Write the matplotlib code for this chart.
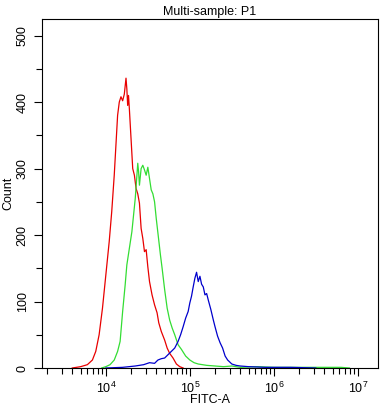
import numpy as np
import matplotlib
matplotlib.use("Agg")
import matplotlib.pyplot as plt
from matplotlib.ticker import LogLocator, MultipleLocator, NullFormatter

plt.rcParams['font.family'] = ['Liberation Sans', 'DejaVu Sans']
plt.rcParams['mathtext.fontset'] = 'custom'
plt.rcParams['mathtext.rm'] = 'Liberation Sans'

# log10(FITC-A) positions and counts
red_log = [3.60, 3.70, 3.78, 3.84, 3.88, 3.92, 3.96, 4.00, 4.04, 4.07, 4.10, 4.12, 4.14, 4.16,
           4.18, 4.20, 4.22, 4.24, 4.25, 4.26, 4.27, 4.28, 4.30, 4.32, 4.34, 4.36, 4.38, 4.40,
           4.42, 4.44, 4.46, 4.48, 4.50, 4.52, 4.55, 4.58, 4.61, 4.63, 4.66, 4.70, 4.73, 4.76,
           4.80, 4.84, 4.88, 4.92]
red_cnt = [0, 2, 5, 12, 25, 50, 90, 140, 190, 235, 290, 335, 380, 400,
           408, 402, 412, 436, 420, 395, 410, 390, 345, 300, 290, 270, 262, 248,
           210, 195, 175, 178, 152, 130, 110, 95, 83, 68, 55, 42, 30, 22,
           15, 6, 2, 0]

green_log = [3.95, 4.00, 4.05, 4.10, 4.14, 4.17, 4.20, 4.23, 4.25, 4.28, 4.31, 4.33, 4.35, 4.37,
             4.38, 4.39, 4.40, 4.42, 4.44, 4.46, 4.48, 4.50, 4.52, 4.54, 4.56, 4.58, 4.60, 4.62,
             4.65, 4.67, 4.70, 4.73, 4.76, 4.79, 4.82, 4.86, 4.90, 4.95, 5.00, 5.05, 5.10, 5.20,
             5.30, 5.40, 5.50, 5.60, 5.80, 6.00, 6.20, 6.50, 6.80, 6.90]
green_cnt = [0, 2, 5, 12, 25, 40, 85, 125, 155, 180, 205, 230, 255, 290,
             308, 295, 275, 300, 305, 298, 290, 302, 285, 268, 262, 250, 225, 203,
             170, 150, 118, 90, 72, 60, 50, 35, 28, 18, 12, 8, 6, 4,
             3, 2, 3, 1, 2, 1, 1, 1, 1, 0]

blue_log = [4.00, 4.20, 4.35, 4.45, 4.52, 4.58, 4.62, 4.66, 4.70, 4.74, 4.78, 4.82, 4.86, 4.89,
            4.92, 4.95, 4.98, 5.00, 5.02, 5.04, 5.06, 5.08, 5.10, 5.12, 5.14, 5.16, 5.18, 5.20,
            5.22, 5.25, 5.28, 5.30, 5.33, 5.36, 5.39, 5.42, 5.45, 5.50, 5.55, 5.60, 5.70, 5.90,
            6.20, 6.50]
blue_cnt = [0, 1, 3, 5, 8, 7, 12, 14, 15, 20, 25, 30, 40, 50,
            62, 75, 85, 98, 108, 122, 135, 144, 130, 138, 126, 122, 110, 112,
            102, 88, 72, 62, 48, 38, 30, 18, 12, 6, 4, 3, 2, 1,
            1, 0]

fig = plt.figure(figsize=(3.85, 4.07), dpi=100)
ax = fig.add_axes([42/385, 39/407, 336/385, 349/407])

ax.plot(10**np.array(red_log), red_cnt, color='#e80000', lw=0.9)
ax.plot(10**np.array(green_log), green_cnt, color='#33dd33', lw=0.9)
ax.plot(10**np.array(blue_log), blue_cnt, color='#0000cc', lw=0.9)

ax.set_xscale('log')
ax.set_xlim(10**3.24, 10**7.24)
ax.set_ylim(0, 525)

ax.xaxis.set_major_locator(LogLocator(base=10, numticks=10))
ax.xaxis.set_minor_locator(LogLocator(base=10, subs=np.arange(2, 10), numticks=20))
ax.xaxis.set_minor_formatter(NullFormatter())
ax.yaxis.set_major_locator(MultipleLocator(100))
ax.yaxis.set_minor_locator(MultipleLocator(50))

ax.tick_params(which='major', length=6, width=0.8, labelsize=9, direction='out')
ax.tick_params(which='minor', length=4, width=0.8, direction='out')
for lab in ax.get_yticklabels():
    lab.set_rotation(90)
    lab.set_va('center')

ax.set_title('Multi-sample: P1', fontsize=9, pad=3)
ax.set_xlabel('FITC-A', fontsize=9, va='center')
ax.xaxis.set_label_coords(0.5, -0.092)
ax.set_ylabel('Count', fontsize=9, labelpad=2)

fig.savefig('out.png', dpi=100)
